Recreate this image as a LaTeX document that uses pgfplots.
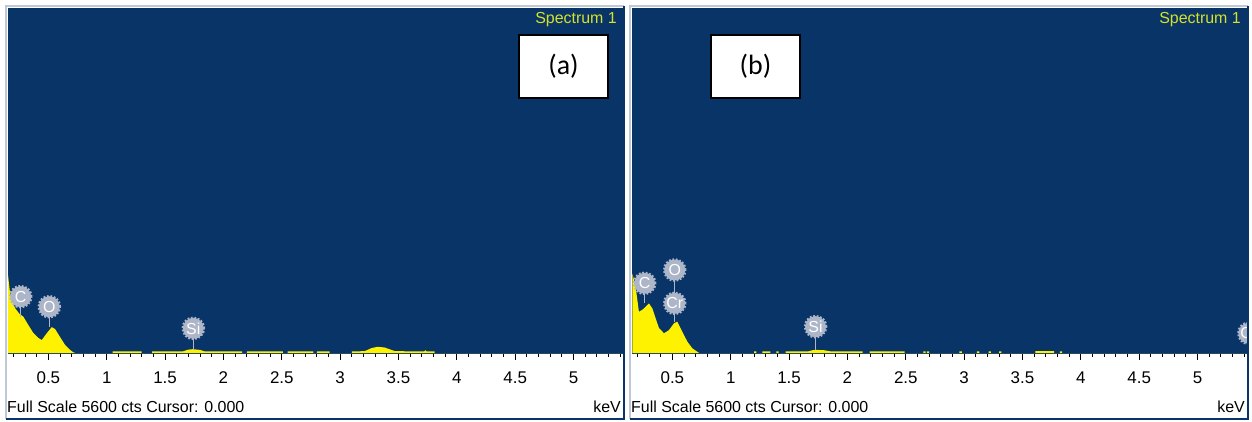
\documentclass[border=0pt]{standalone}
\usepackage{fontspec}
\setmainfont{Liberation Sans}
\newfontfamily\carlito{Carlito}
\usepackage{pgfplots}
\pgfplotsset{compat=1.18}

\definecolor{incablue}{RGB}{9,52,104}
\definecolor{incaedge}{RGB}{190,200,215}
\definecolor{specyellow}{RGB}{214,226,40}
\definecolor{peakgray}{RGB}{172,182,200}

\pgfplotsset{
  edsspec/.style={
    at={(#1,68bp)}, anchor=south west,
    scale only axis, width=615bp, height=345bp,
    xmin=0.154, xmax=5.424, ymin=0, ymax=5600,
    axis background/.style={fill=incablue},
    axis x line*=bottom, axis y line=none,
    x axis line style={incablue},
    xtick={0.5,1,1.5,2,2.5,3,3.5,4,4.5,5},
    xticklabels={0.5,1,1.5,2,2.5,3,3.5,4,4.5,5},
    minor xtick={0.2,0.3,...,5.4},
    tick align=outside, tick pos=bottom,
    major tick length=7bp, minor tick length=4bp,
    every tick/.style={black, line width=0.9bp},
    xticklabel style={font=\fontsize{17}{17}\selectfont, yshift=-8bp},
  },
  spectrum/.style={fill=yellow, draw=none},
}
\tikzset{
  peaknode/.style={circle, fill=peakgray, draw=peakgray, line width=2.6bp,
    dash pattern=on 1.7bp off 1.7bp, minimum size=21bp, inner sep=0pt,
    text=white, font=\fontsize{16}{16}\selectfont},
}
% stem from label centre down to the peak, then the label
\newcommand{\peak}[4]{%
  \draw[peakgray, line width=1.5bp] (axis cs:#1,#2) -- (axis cs:#1,#4);
  \node[peaknode] at (axis cs:#1,#2) {#3};
}

\begin{document}
\begin{tikzpicture}[x=1bp, y=1bp]
\fill[white] (0,0) rectangle (1252,421);

% ---- panel (a)
\begin{axis}[edsspec={8bp}]
\addplot[spectrum] coordinates {
  (0.154,0) (0.154,1266) (0.170,1000) (0.186,860) (0.214,730) (0.250,640)
  (0.285,590) (0.328,455) (0.371,325) (0.414,245) (0.443,210) (0.486,320)
  (0.529,420) (0.557,390) (0.600,260) (0.643,130) (0.686,50) (0.711,15) (0.730,0)
  (1.05,0) (1.05,25) (1.30,25) (1.30,0)
  (1.39,0) (1.39,25) (1.65,25) (1.70,55) (1.74,62) (1.80,50) (1.84,25) (2.16,25) (2.16,0)
  (2.20,0) (2.20,25) (2.51,25) (2.51,0)
  (2.55,0) (2.55,25) (2.77,25) (2.77,0)
  (2.80,0) (2.80,25) (2.91,25) (2.91,0)
  (3.10,0) (3.10,25) (3.21,30) (3.27,80) (3.32,100) (3.38,90) (3.47,30)
  (3.72,25) (3.73,45) (3.74,25) (3.81,25) (3.81,0) (5.424,0)
} \closedcycle;
\peak{0.263}{914}{C}{590}
\peak{0.508}{751}{O}{420}
\peak{1.742}{400}{Si}{55}
\end{axis}

% ---- panel (b)
\begin{axis}[edsspec={632bp}]
\addplot[spectrum] coordinates {
  (0.157,0) (0.157,1290) (0.185,1075) (0.213,670) (0.242,700) (0.271,750)
  (0.299,805) (0.328,725) (0.356,565) (0.385,405) (0.428,320) (0.470,370)
  (0.513,480) (0.542,510) (0.585,345) (0.628,185) (0.671,75) (0.714,20) (0.730,0)
  (1.20,0) (1.20,25) (1.22,25) (1.22,0)
  (1.27,0) (1.27,25) (1.34,25) (1.34,0)
  (1.39,0) (1.39,25) (1.41,25) (1.41,0)
  (1.47,0) (1.47,25) (1.66,25) (1.70,45) (1.74,50) (1.80,45) (1.86,25) (2.13,25) (2.13,0)
  (2.19,0) (2.19,25) (2.49,25) (2.49,0)
  (2.65,0) (2.65,25) (2.67,25) (2.67,0)
  (2.68,0) (2.68,25) (2.70,25) (2.70,0)
  (2.96,0) (2.96,25) (2.98,25) (2.98,0)
  (3.11,0) (3.11,25) (3.13,25) (3.13,0)
  (3.21,0) (3.21,25) (3.23,25) (3.23,0)
  (3.30,0) (3.30,25) (3.32,25) (3.32,0)
  (3.61,0) (3.61,30) (3.77,30) (3.77,0)
  (3.82,0) (3.82,25) (3.84,25) (3.84,0) (5.424,0)
} \closedcycle;
\peak{0.262}{1131}{C}{805}
\peak{0.520}{1347}{O}{500}
\peak{0.520}{806}{Cr}{500}
\peak{1.727}{427}{Si}{45}
\peak{5.44}{320}{Cr}{0}
\end{axis}

% ---- frames and texts
\foreach \xa/\xb in {6/624, 630/1248}{
  \draw[incaedge, line width=1.5bp] (\xa,2) -- (\xa,415) -- (\xb,415);
  \draw[incablue, line width=1.5bp] (\xa,2) -- (\xb,2) -- (\xb,415);
}
\foreach \xo/\lab/\bx in {0/a/563.5, 624/b/755.5}{
  \node[anchor=east, inner sep=0pt, text=specyellow, font=\fontsize{16}{16}\selectfont]
    at (617+\xo,401) {Spectrum 1};
  \node[anchor=base west, inner sep=0pt, font=\fontsize{16}{16}\selectfont]
    at (7+\xo,9) {Full Scale 5600 cts Cursor: 0.000};
  \node[anchor=base east, inner sep=0pt, font=\fontsize{16}{16}\selectfont]
    at (621+\xo,9) {keV};
  \node[draw=black, line width=1.5bp, fill=white, minimum width=89bp, minimum height=63bp,
    font=\carlito\fontsize{28}{28}\selectfont] at (\bx,354.5) {(\lab)};
}
\end{tikzpicture}
\end{document}
